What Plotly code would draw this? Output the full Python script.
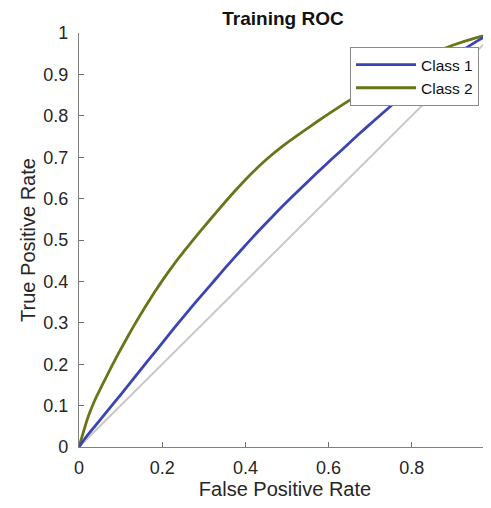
import plotly.graph_objects as go

# Class 1 ROC
fpr_class1 = [0, 0.014, 0.038, 0.0625, 0.087, 0.111, 0.135, 0.159, 0.183, 0.207, 0.231,
              0.255, 0.279, 0.303, 0.327, 0.351, 0.391, 0.431, 0.471, 0.511, 0.551,
              0.591, 0.631, 0.671, 0.711, 0.751, 0.791, 0.85, 0.90, 0.948, 0.98, 1.0]
tpr_class1 = [0, 0.020, 0.050, 0.080, 0.110, 0.140, 0.170, 0.200, 0.230, 0.260, 0.290,
              0.319, 0.348, 0.376, 0.404, 0.432, 0.477, 0.521, 0.563, 0.603, 0.642,
              0.680, 0.717, 0.754, 0.790, 0.825, 0.859, 0.906, 0.943, 0.975, 0.993, 1.0]

# Class 2 ROC
fpr_class2 = [0, 0.022, 0.038, 0.055, 0.070, 0.087, 0.103, 0.119, 0.135, 0.151, 0.167,
              0.183, 0.199, 0.215, 0.231, 0.247, 0.263, 0.279, 0.299, 0.331, 0.371,
              0.411, 0.451, 0.491, 0.531, 0.571, 0.611, 0.651, 0.70, 0.75, 0.80,
              0.85, 0.90, 0.95, 1.0]
tpr_class2 = [0, 0.073, 0.113, 0.148, 0.178, 0.211, 0.241, 0.270, 0.298, 0.325, 0.351,
              0.376, 0.400, 0.423, 0.445, 0.466, 0.486, 0.506, 0.530, 0.568, 0.614,
              0.657, 0.695, 0.728, 0.757, 0.785, 0.812, 0.838, 0.868, 0.898, 0.926,
              0.951, 0.971, 0.987, 1.0]

diag = [0, 1]

FONT = "Liberation Sans, Arial, Helvetica, sans-serif"

# page body has an 8px margin; figure is sized so the plot lands where the reference has it
W, H = 483, 500
L, T, B = 71, 25, 61
plot_w = W - L
plot_h = H - T - B

fig = go.Figure()
fig.add_trace(go.Scatter(x=diag, y=diag, mode="lines",
                         line=dict(color="#c8c8c8", width=2), showlegend=False,
                         hoverinfo="skip"))
fig.add_trace(go.Scatter(x=fpr_class2, y=tpr_class2, mode="lines", name="Class 2",
                         line=dict(color="#687518", width=2.8, shape="spline", smoothing=0.6)))
fig.add_trace(go.Scatter(x=fpr_class1, y=tpr_class1, mode="lines", name="Class 1",
                         line=dict(color="#3a44b4", width=2.8, shape="spline", smoothing=0.6)))

fig.update_layout(
    width=W, height=H,
    margin=dict(l=L, r=0, t=T, b=B, pad=0),
    paper_bgcolor="white", plot_bgcolor="white",
    font=dict(family=FONT, size=18, color="#262626"),
    title=dict(text="<b>Training ROC</b>", x=(283 - 8) / W, xanchor="center",
               xref="container", yref="container", y=1 - 10 / H, yanchor="middle",
               font=dict(size=19, color="#111111")),
    legend=dict(x=(342 - L) / plot_w, y=(H - B - 39) / plot_h, xanchor="left", yanchor="top",
                bgcolor="white", bordercolor="#8a8a8a", borderwidth=1,
                font=dict(size=15.5, color="#111111"), itemwidth=60,
                traceorder="reversed", tracegroupgap=0),
    xaxis=dict(range=[0, plot_w / 416], tickvals=[0, 0.2, 0.4, 0.6, 0.8, 1.0],
               ticktext=["0", "0.2", "0.4", "0.6", "0.8", "1"],
               ticks="inside", ticklen=5, tickcolor="#707070", ticklabelstandoff=4,
               showline=True, linecolor="#808080", linewidth=1.3,
               showgrid=False, zeroline=False, automargin=False,
               title=dict(text="False Positive Rate", font=dict(size=20), standoff=1)),
    yaxis=dict(range=[0, 1], dtick=0.1, tick0=0,
               ticks="inside", ticklen=5, tickcolor="#707070", ticklabelstandoff=6,
               showline=True, linecolor="#808080", linewidth=1.3,
               showgrid=False, zeroline=False, automargin=False,
               title=dict(text="True Positive Rate", font=dict(size=20), standoff=2)),
)

fig.write_html("out.html")
